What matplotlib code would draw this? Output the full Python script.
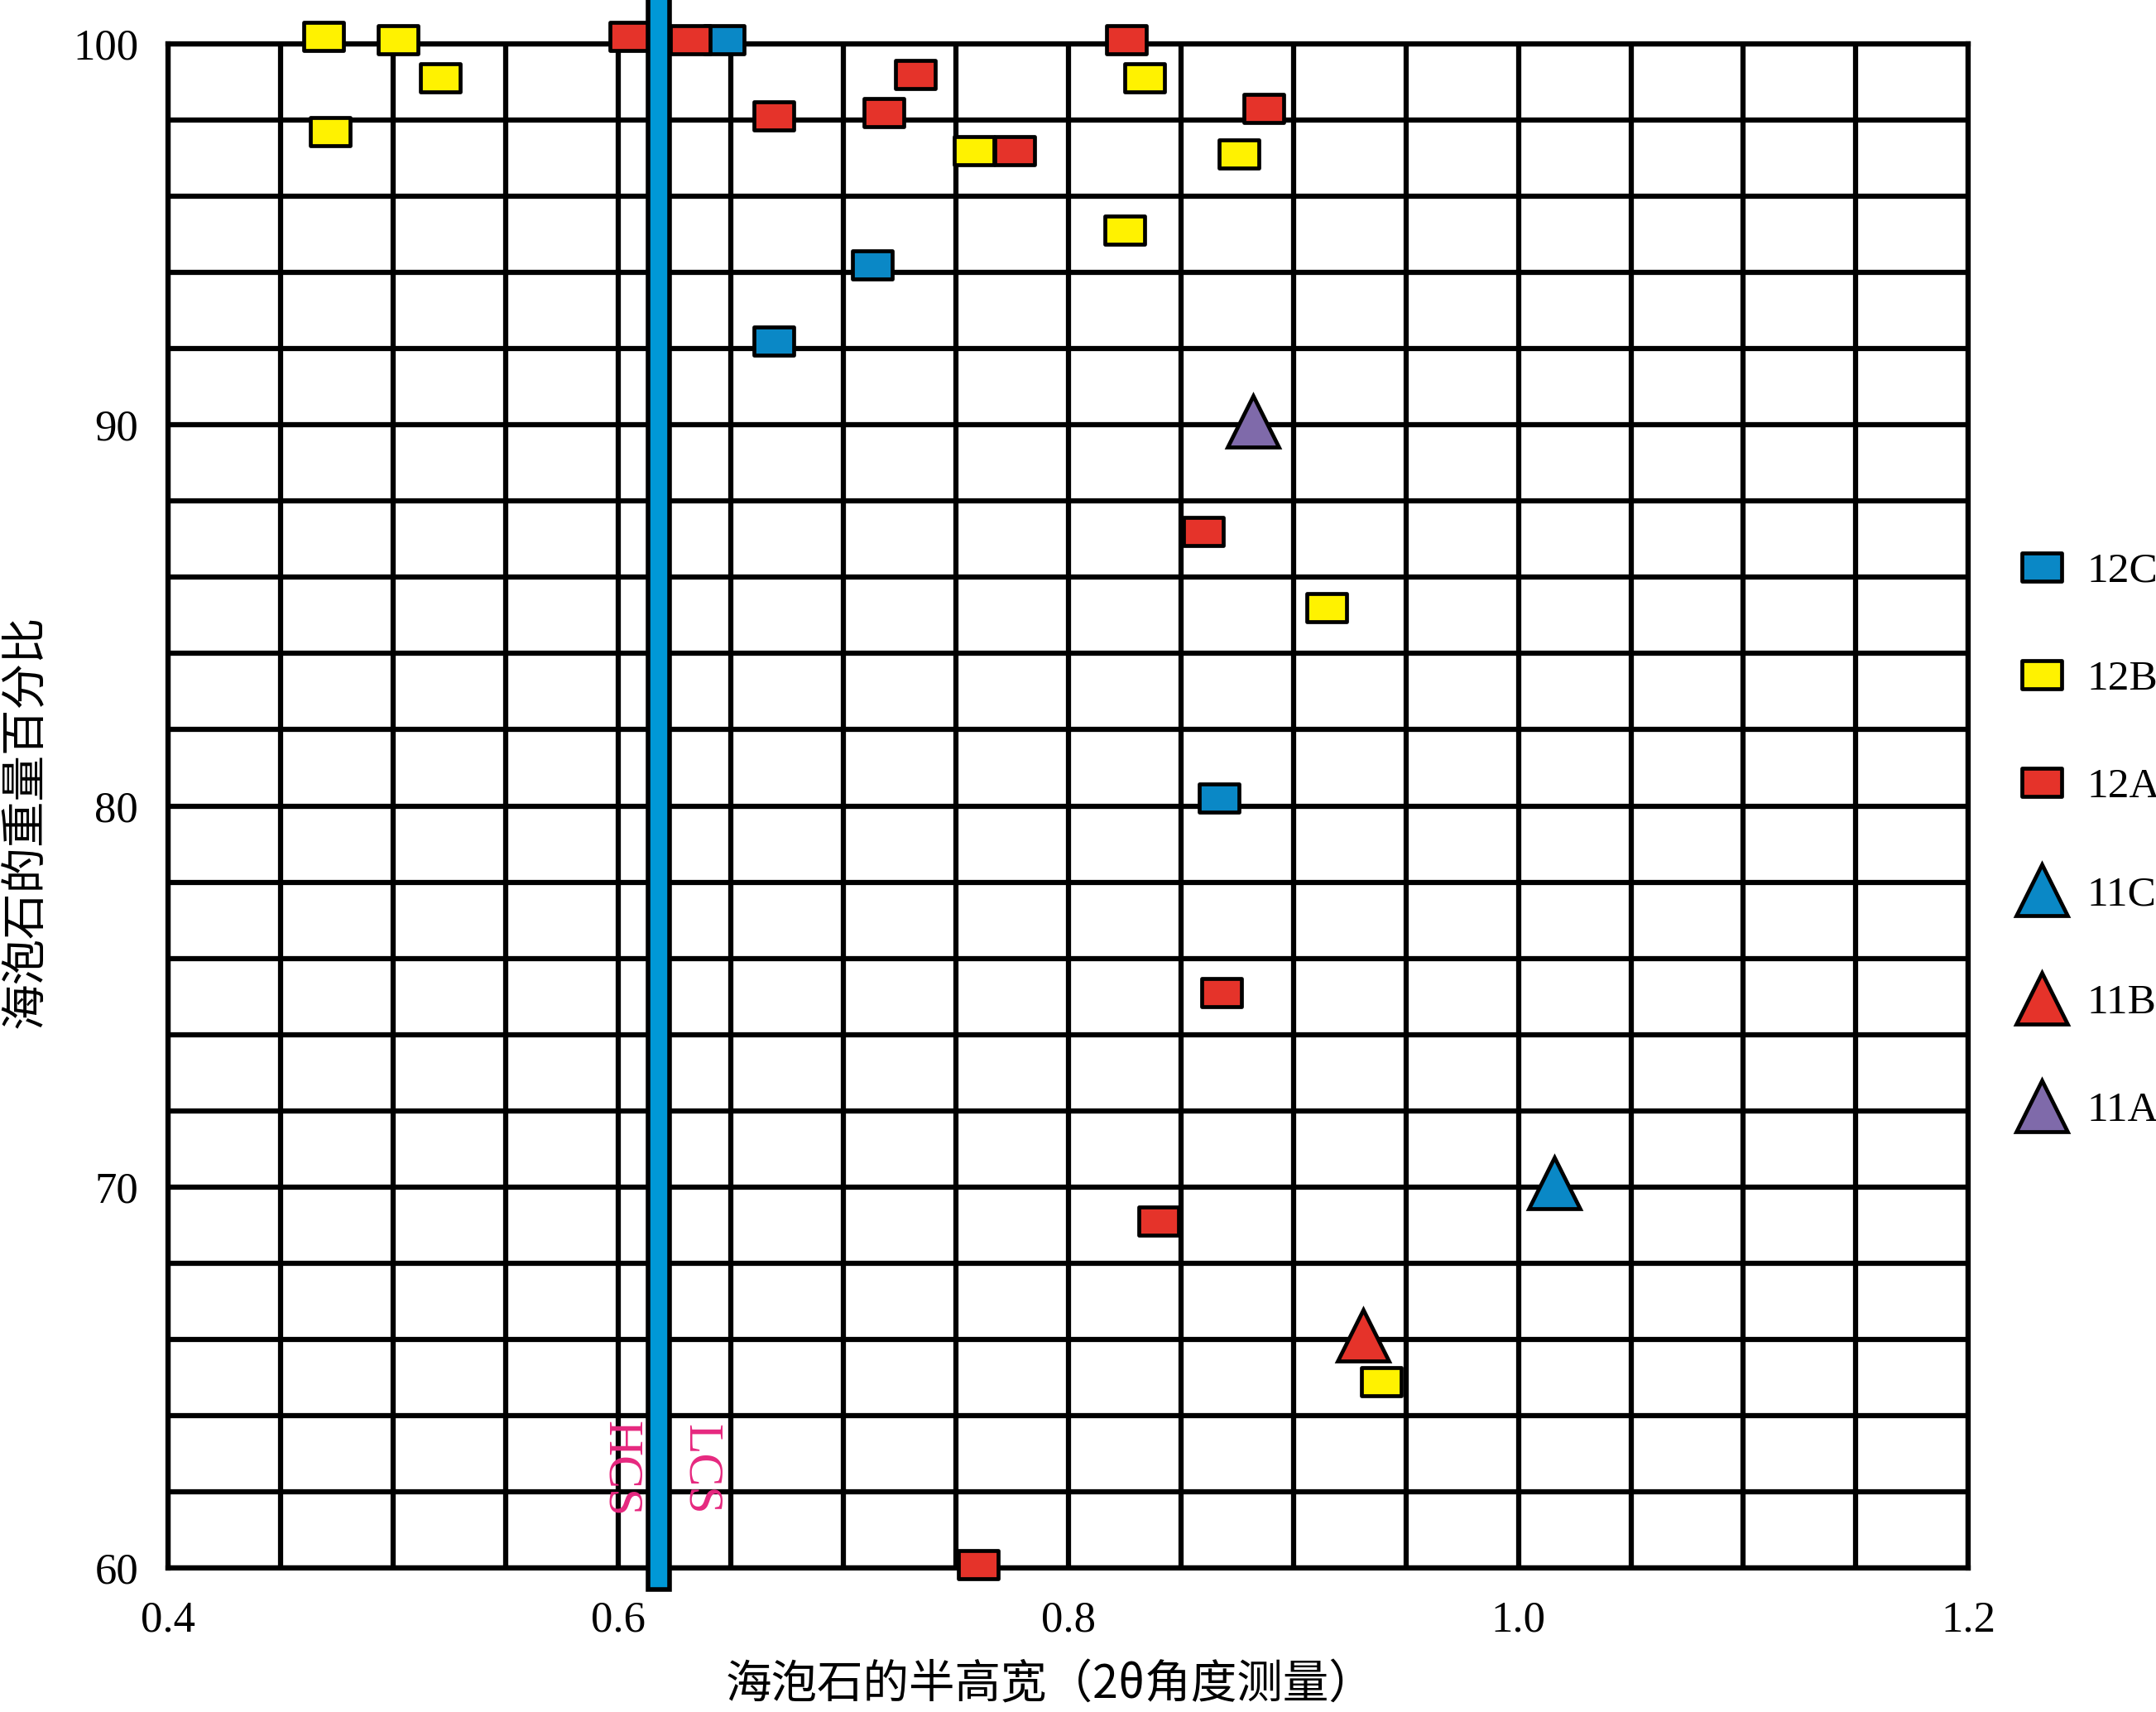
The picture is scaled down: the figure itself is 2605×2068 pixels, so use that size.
import matplotlib
matplotlib.use("Agg")
import matplotlib.pyplot as plt
from matplotlib.path import Path
from matplotlib.patches import Rectangle
from matplotlib.ticker import MultipleLocator
import numpy as np

# data (x = FWHM in 2-theta, y = weight % sepiolite)
x_12c = [0.647, 0.713, 0.669, 0.867]
y_12c = [100.1, 94.2, 92.2, 80.2]

x_12b = [0.469, 0.502, 0.521, 0.472, 0.758, 0.834, 0.825, 0.876, 0.915, 0.939]
y_12b = [100.2, 100.1, 99.1, 97.7, 97.2, 99.1, 95.1, 97.1, 85.2, 64.9]

x_12a = [0.605, 0.632, 0.669, 0.718, 0.732, 0.776, 0.826, 0.887, 0.860, 0.868, 0.840, 0.760]
y_12a = [100.2, 100.1, 98.1, 98.2, 99.2, 97.2, 100.1, 98.3, 87.2, 75.1, 69.1, 60.1]

x_11c = [1.016]
y_11c = [70.1]
x_11b = [0.931]
y_11b = [66.1]
x_11a = [0.882]
y_11a = [90.1]

boundary_x = 0.618   # HCS / LCS boundary

BLUE = "#0a88c6"
YELLOW = "#fff200"
RED = "#e5332a"
PURPLE = "#7f6aaa"
PINK = "#e6287f"

serif = "Liberation Serif"
cjk = ["Noto Sans CJK SC", "DejaVu Sans"]

# wide rectangle marker
rect = Path([(-1, -0.72), (1, -0.72), (1, 0.72), (-1, 0.72), (-1, -0.72)],
            [Path.MOVETO, Path.LINETO, Path.LINETO, Path.LINETO, Path.CLOSEPOLY])

fig = plt.figure(figsize=(26.05, 20.68), dpi=100)
ax = fig.add_axes([0.078, 0.084, 0.835, 0.8905])

ax.set_xlim(0.4, 1.2)
ax.set_ylim(60, 100)

ax.xaxis.set_major_locator(MultipleLocator(0.2))
ax.xaxis.set_minor_locator(MultipleLocator(0.05))
ax.yaxis.set_major_locator(MultipleLocator(10))
ax.yaxis.set_minor_locator(MultipleLocator(2))
ax.grid(True, which="both", color="black", linewidth=4.5, zorder=1)
ax.set_axisbelow(True)
ax.tick_params(which="both", length=0)
ax.tick_params(axis="y", pad=26)
ax.tick_params(axis="x", pad=28)
ax.set_xticks([0.4, 0.6, 0.8, 1.0, 1.2])
ax.set_xticklabels(["0.4", "0.6", "0.8", "1.0", "1.2"], fontfamily=serif, fontsize=38)
ax.set_yticks([60, 70, 80, 90, 100])
ax.set_yticklabels(["60", "70", "80", "90", "100"], fontfamily=serif, fontsize=38)
for s in ax.spines.values():
    s.set_linewidth(4.5)

ms = 34
mew = 3.4
ax.plot(x_12c, y_12c, ls="none", marker=rect, ms=ms, mfc=BLUE, mec="black", mew=mew,
        label="12C", zorder=4, clip_on=False)
ax.plot(x_12b, y_12b, ls="none", marker=rect, ms=ms, mfc=YELLOW, mec="black", mew=mew,
        label="12B", zorder=4, clip_on=False)
ax.plot(x_12a, y_12a, ls="none", marker=rect, ms=ms, mfc=RED, mec="black", mew=mew,
        label="12A", zorder=4, clip_on=False)
ax.plot(x_11c, y_11c, ls="none", marker="^", ms=44, mfc=BLUE, mec="black", mew=mew,
        label="11C", zorder=4, clip_on=False)
ax.plot(x_11b, y_11b, ls="none", marker="^", ms=44, mfc=RED, mec="black", mew=mew,
        label="11B", zorder=4, clip_on=False)
ax.plot(x_11a, y_11a, ls="none", marker="^", ms=44, mfc=PURPLE, mec="black", mew=mew,
        label="11A", zorder=4, clip_on=False)

# vertical boundary bar
bar = Rectangle((boundary_x - 0.0048, 59.45), 0.0096, 42.2, facecolor="#0098d6",
                edgecolor="black", linewidth=4.0, zorder=5, clip_on=False)
ax.add_patch(bar)

ax.text(boundary_x - 0.0175, 62.6, "HCS", rotation=270, color=PINK, fontfamily=serif,
        fontsize=43, ha="center", va="center", zorder=6)
ax.text(boundary_x + 0.0185, 62.6, "LCS", rotation=270, color=PINK, fontfamily=serif,
        fontsize=43, ha="center", va="center", zorder=6)

ax.set_xlabel("海泡石的半高宽（2θ角度测量）", fontfamily=cjk, fontsize=40)
ax.xaxis.set_label_coords(0.49, -0.061)
ax.set_ylabel("海泡石的重量百分比", fontfamily=cjk, fontsize=40)
ax.yaxis.set_label_coords(-0.066, 0.49)

leg = ax.legend(loc="center left", bbox_to_anchor=(1.009, 0.477), frameon=False,
                prop={"family": serif, "size": 37}, labelspacing=1.62,
                handlelength=1.3, handletextpad=0.4, borderaxespad=0.3)

fig.savefig("out.png", dpi=100)
